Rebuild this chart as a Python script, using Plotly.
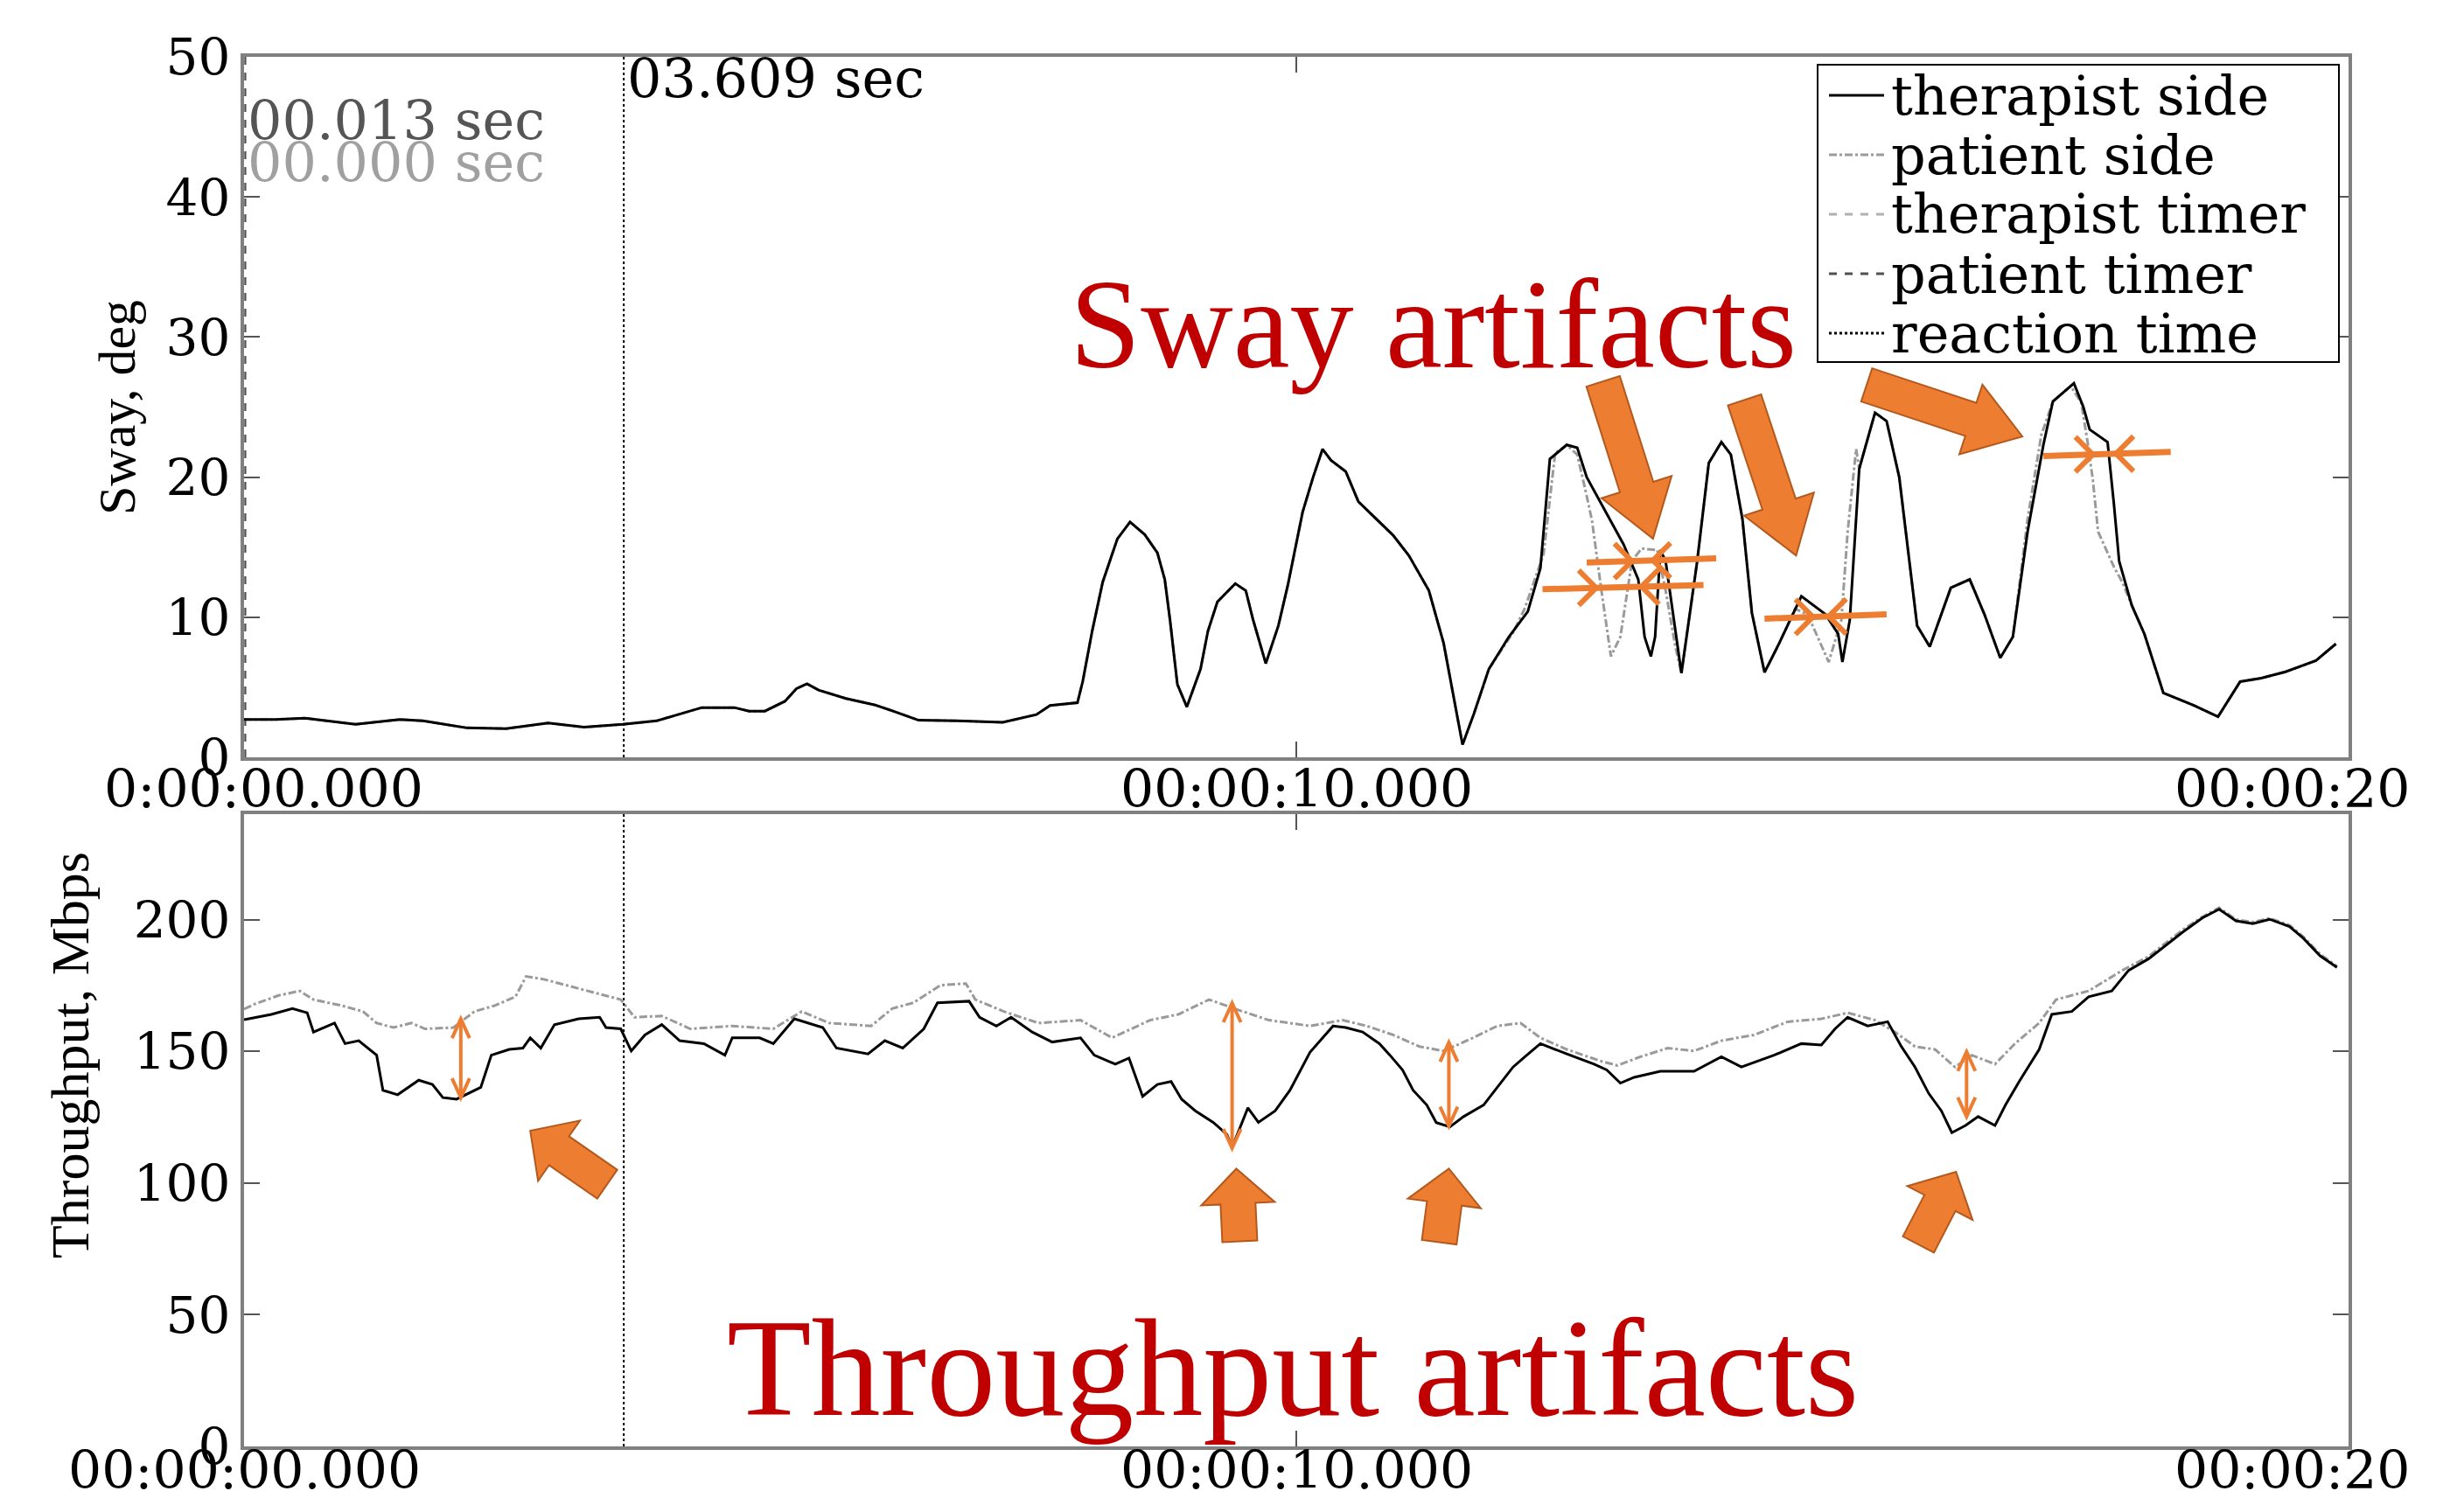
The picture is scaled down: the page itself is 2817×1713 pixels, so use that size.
import math
import plotly.graph_objects as go

# ---------------- data ----------------
sway_t = [0.00, 0.30, 0.58, 1.06, 1.48, 1.70, 2.12, 2.49, 2.89, 3.23, 3.60, 3.92, 4.35, 4.66, 4.80,
          4.95, 5.14, 5.25, 5.35, 5.46, 5.72, 5.99, 6.15, 6.41, 6.78, 7.21, 7.53, 7.66, 7.92, 7.97,
          8.06, 8.16, 8.30, 8.42, 8.56, 8.68, 8.75, 8.80, 8.87, 8.96, 9.09, 9.16, 9.25, 9.42, 9.52,
          9.59, 9.71, 9.83, 9.92, 10.06, 10.16, 10.25, 10.33, 10.47, 10.59, 10.92, 11.07, 11.26, 11.40,
          11.58, 11.69, 11.83, 12.02, 12.20, 12.32, 12.41, 12.57, 12.67, 12.76, 12.96, 13.11, 13.25,
          13.31, 13.37, 13.41, 13.46, 13.51, 13.66, 13.81, 13.92, 14.04, 14.13, 14.24, 14.33, 14.45,
          14.59, 14.80, 15.03, 15.15, 15.19, 15.26, 15.35, 15.50, 15.61, 15.73, 15.90, 16.02, 16.22,
          16.40, 16.54, 16.69, 16.81, 16.95, 17.10, 17.19, 17.39, 17.48, 17.54, 17.71, 17.77, 17.82,
          17.94, 18.06, 18.24, 18.53, 18.76, 18.97, 19.17, 19.40, 19.69, 19.88]
sway_therapist = [2.7, 2.7, 2.8, 2.35, 2.7, 2.6, 2.1, 2.05, 2.45, 2.15, 2.35, 2.6, 3.55, 3.55, 3.3,
                  3.3, 4.0, 4.9, 5.25, 4.8, 4.2, 3.75, 3.35, 2.65, 2.6, 2.5, 3.05, 3.7, 3.9, 5.4,
                  9.0, 12.5, 15.6, 16.8, 15.9, 14.6, 12.7, 9.8, 5.2, 3.6, 6.3, 9.0, 11.1, 12.4, 11.9,
                  9.8, 6.7, 9.4, 12.3, 17.5, 20.0, 22.0, 21.2, 20.4, 18.25, 15.85, 14.4, 11.9, 8.15,
                  0.9, 3.15, 6.3, 8.6, 10.4, 13.5, 21.3, 22.3, 22.1, 20.0, 17.3, 15.2, 12.7,
                  8.6, 7.2, 8.6, 14.8, 14.0, 6.0, 14.0, 21.0, 22.5, 21.6, 17.0, 10.3, 6.06,
                  8.15, 11.5, 10.2, 8.8, 6.8, 9.8, 20.6, 24.6, 24.0, 20.0, 9.4, 7.9, 12.1,
                  12.7, 10.2, 7.1, 8.6, 16.1, 22.3, 25.4, 26.7, 25.0, 23.4, 22.5, 18.1, 14.0,
                  10.85, 8.8, 4.6, 3.7, 2.9, 5.4, 5.65, 6.1, 6.9, 8.1]

# patient side differs from therapist side only inside these windows
sway_artifact_windows = [(12.00, 13.62), (14.55, 15.34), (16.90, 17.88)]
sway_patient_t = [12.06, 12.17, 12.35, 12.46, 12.57, 12.67, 12.75, 12.81, 12.90, 12.99, 13.08, 13.19,
                  13.28, 13.43, 13.51, 13.60,
                  14.59, 14.74, 14.86, 14.97, 15.06, 15.18, 15.24, 15.32,
                  16.95, 17.08, 17.19, 17.36, 17.46, 17.52, 17.57, 17.62, 17.77, 17.85]
sway_patient_v = [8.9, 10.6, 14.5, 21.7, 22.3, 21.6, 19.0, 16.9, 11.9, 7.2, 8.6, 14.0,
                  14.9, 14.8, 11.9, 8.0,
                  8.15, 10.6, 10.2, 8.35, 6.8, 9.8, 16.1, 22.0,
                  17.0, 23.0, 25.4, 26.5, 25.3, 22.5, 19.8, 16.1, 13.6, 12.5]

tp_t = [0.00, 0.26, 0.46, 0.60, 0.66, 0.86, 0.96, 1.09, 1.26, 1.32, 1.46, 1.66, 1.79, 1.89, 2.02,
        2.25, 2.35, 2.52, 2.65, 2.72, 2.82, 2.95, 3.18, 3.38, 3.44, 3.58, 3.68, 3.81, 3.97, 4.14,
        4.37, 4.57, 4.64, 4.90, 5.03, 5.23, 5.50, 5.63, 5.93, 6.09, 6.26, 6.46, 6.59, 6.89, 6.99,
        7.15, 7.29, 7.49, 7.68, 7.95, 8.08, 8.28, 8.41, 8.54, 8.68, 8.81, 8.91, 9.04, 9.21, 9.34,
        9.39, 9.54, 9.64, 9.80, 9.94, 10.13, 10.35, 10.47, 10.63, 10.79, 10.89, 11.01, 11.11, 11.24,
        11.33, 11.46, 11.59, 11.78, 11.91, 12.06, 12.19, 12.32, 12.57, 12.83, 12.95, 13.08, 13.21,
        13.46, 13.78, 14.04, 14.23, 14.54, 14.80, 14.99, 15.12, 15.24, 15.43, 15.62, 15.75, 15.88,
        16.01, 16.13, 16.23, 16.36, 16.48, 16.64, 16.74, 16.87, 17.06, 17.18, 17.37, 17.53, 17.75,
        17.91, 18.10, 18.42, 18.61, 18.77, 18.93, 19.09, 19.25, 19.44, 19.57, 19.73, 19.89]
tp_therapist = [162.0, 164.0, 166.2, 164.6, 157.3, 160.7, 152.9, 154.0, 148.5, 135.2, 133.5, 139.0, 137.4, 132.4, 131.8,
                136.3, 148.5, 150.7, 151.2, 155.1, 151.2, 160.1, 162.3, 162.9, 159.0, 158.5, 150.1, 156.2, 160.1, 154.0,
                152.9, 148.5, 155.1, 155.1, 152.9, 162.3, 159.0, 151.2, 149.0, 154.0, 151.2, 158.5, 168.4, 169.0, 162.9,
                159.6, 162.9, 157.3, 153.5, 155.1, 148.5, 145.1, 147.4, 132.9, 137.4, 138.5, 131.8, 127.4, 123.0, 118.5,
                113.5, 128.5, 123.0, 127.4, 135.2, 149.6, 159.6, 159.0, 157.3, 152.9, 148.5, 142.9, 135.2, 129.6,
                122.9, 121.3, 125.2, 129.6, 136.3, 144.0, 148.5, 152.9, 149.0, 145.1, 142.9, 137.9, 140.1,
                142.4, 142.4, 147.9, 144.0, 148.5, 152.9, 152.4, 158.5, 162.9, 159.6, 161.2, 151.8, 144.0,
                134.0, 127.4, 119.1, 121.8, 125.2, 121.8, 129.6, 138.5, 150.7, 164.0, 165.1, 170.7, 172.9,
                180.7, 185.1, 195.1, 200.6, 203.9, 199.5, 198.4, 200.1, 197.3, 192.9, 186.2, 181.8]

tp_patient_t = [0.00, 0.10, 0.33, 0.53, 0.66, 0.93, 1.13, 1.26, 1.42, 1.59, 1.72, 1.99, 2.19, 2.38, 2.58,
                2.68, 2.85, 3.11, 3.38, 3.58, 3.71, 3.97, 4.24, 4.64, 5.03, 5.30, 5.56, 5.96, 6.16, 6.36,
                6.62, 6.86, 6.95, 7.22, 7.55, 7.95, 8.25, 8.61, 8.88, 9.17, 9.41, 9.74, 10.13, 10.44, 10.67,
                10.92, 11.17, 11.40, 11.68, 11.91, 12.13, 12.32, 12.57, 12.89, 13.05, 13.27, 13.53, 13.78,
                14.04, 14.35, 14.67, 14.99, 15.24, 15.50, 15.69, 15.88, 16.07, 16.26, 16.42, 16.64, 16.83,
                17.06, 17.22, 17.53, 17.85, 18.10, 18.42, 18.61, 18.77, 18.93, 19.09, 19.25, 19.44, 19.57,
                19.73, 19.89]
tp_patient = [166.0, 167.9, 171.2, 172.9, 169.6, 167.3, 165.1, 160.7, 159.0, 160.7, 158.5, 159.0, 165.1, 167.3, 170.7,
              178.4, 177.3, 174.5, 171.8, 169.6, 162.9, 163.4, 158.5, 159.6, 158.5, 165.1, 160.7, 159.6, 166.2, 168.4,
              175.1, 175.7, 169.6, 165.1, 160.7, 161.8, 155.1, 161.8, 164.0, 169.6, 166.2, 161.8, 159.6, 161.8, 159.6,
              156.2, 151.8, 150.1, 155.1, 159.6, 160.7, 155.1, 150.7, 146.3, 144.6, 147.9, 151.2, 150.1,
              154.0, 156.2, 161.2, 162.3, 164.6, 161.8, 157.3, 151.8, 150.7, 144.0, 148.5, 145.1, 152.9,
              160.7, 169.6, 172.9, 180.7, 186.0, 196.0, 201.0, 204.5, 200.0, 199.0, 200.5, 197.8, 193.5,
              186.8, 182.3]

reaction_time = 3.609
therapist_timer = 0.000
patient_timer = 0.013

x_tick_vals = [0, 10, 20]
x_tick_text_top = ["0:00:00.000", "00:00:10.000", "00:00:20"]
x_tick_text_bottom = ["00:00:00.000", "00:00:10.000", "00:00:20"]
sway_ticks = [0, 10, 20, 30, 40, 50]
tp_ticks = [0, 50, 100, 150, 200]

legend_names = ["therapist side", "patient side", "therapist timer", "patient timer", "reaction time"]

# annotation marks (in data units)
sway_measures = [  # t_left, v_left, t_right, v_right, t_head_right, t_head_left
    (12.34, 12.0, 13.87, 12.3, 12.85, 13.28),
    (12.76, 13.9, 13.99, 14.2, 13.19, 13.39),
    (14.45, 9.9, 15.61, 10.2, 14.91, 15.06),
    (17.10, 21.5, 18.31, 21.8, 17.57, 17.79),
]
tp_measures = [  # t, v_top, v_bottom
    (2.06, 162.3, 132.4),
    (9.39, 168.3, 113.2),
    (11.45, 153.3, 121.6),
    (16.37, 149.8, 125.2),
]
# block arrows: panel, tip t, tip v, tail offset (px, screen)
block_arrows = [
    (1, 13.39, 15.6, -57, -180),
    (1, 14.75, 14.4, -59, -178),
    (1, 16.90, 22.9, -178, -59),
    (2, 2.72, 119.8, 88, 61),
    (2, 9.43, 105.4, 4, 83),
    (2, 11.45, 105.4, -11, 84),
    (2, 16.27, 104.2, -43, 83),
]

# ---------------- geometry / styles ----------------
W, H = 2817, 1713
ML, MR, MT, MB = 271, 140, 57, 67
PW, PH = W - ML - MR, H - MT - MB
TOP_Y = (858, 57)     # pixel rows of y=0 and y=max for top panel
BOT_Y = (1646, 923)
X_RANGE = [0, 20]
Y1_RANGE = [0, 50]
Y2_RANGE = [0, 240]
dom_top = [(H - MB - TOP_Y[0]) / PH, 1.0]
dom_bot = [0.0, (H - MB - BOT_Y[1]) / PH]

ORANGE = "#ED7D31"
ORANGE_EDGE = "#B4591E"
GRAY = "#9a9a9a"
SERIF_CHART = "DejaVu Serif"
SERIF_TXT = "Liberation Serif"

styles = {
    "therapist side": dict(color="black", width=3, dash="solid"),
    "patient side": dict(color=GRAY, width=3, dash="dashdot"),
    "therapist timer": dict(color="#b0b0b0", width=2, dash="dash"),
    "patient timer": dict(color="#505050", width=2, dash="dash"),
    "reaction time": dict(color="black", width=2, dash="dot"),
}


def data_px(panel, t, v):
    X = ML + (t - X_RANGE[0]) / (X_RANGE[1] - X_RANGE[0]) * PW
    if panel == 1:
        y0, y1, r = TOP_Y[0], TOP_Y[1], Y1_RANGE
    else:
        y0, y1, r = BOT_Y[0], BOT_Y[1], Y2_RANGE
    Y = y0 + (v - r[0]) / (r[1] - r[0]) * (y1 - y0)
    return X, Y


def px_paper(X, Y):
    return (X - ML) / PW, (H - MB - Y) / PH


def path_from_px(pts, close=False):
    s = []
    for i, (X, Y) in enumerate(pts):
        xp, yp = px_paper(X, Y)
        s.append(("M" if i == 0 else "L") + f"{xp:.5f},{yp:.5f}")
    return " ".join(s) + (" Z" if close else "")


shapes = []


def block_arrow(panel, tt, tv, ox, oy, shaft=40, head=84, head_len=None):
    TX, TY = data_px(panel, tt, tv)
    SX, SY = TX + ox, TY + oy
    L = math.hypot(TX - SX, TY - SY)
    if head_len is None:
        head_len = 62 if L > 140 else 40
    ux, uy = (TX - SX) / L, (TY - SY) / L
    nx, ny = -uy, ux
    bx, by = TX - ux * head_len, TY - uy * head_len
    pts = [(SX + nx * shaft / 2, SY + ny * shaft / 2),
           (bx + nx * shaft / 2, by + ny * shaft / 2),
           (bx + nx * head / 2, by + ny * head / 2),
           (TX, TY),
           (bx - nx * head / 2, by - ny * head / 2),
           (bx - nx * shaft / 2, by - ny * shaft / 2),
           (SX - nx * shaft / 2, SY - ny * shaft / 2)]
    shapes.append(dict(type="path", xref="paper", yref="paper", path=path_from_px(pts, True),
                       fillcolor=ORANGE, line=dict(color=ORANGE_EDGE, width=2), layer="above"))


def orange_path(pts, width):
    shapes.append(dict(type="path", xref="paper", yref="paper", path=path_from_px(pts),
                       line=dict(color=ORANGE, width=width), layer="above"))


for (t0, v0, t1, v1, thr, thl) in sway_measures:
    A = data_px(1, t0, v0)
    B = data_px(1, t1, v1)
    orange_path([A, B], 7)
    vr = v0 + (v1 - v0) * (thr - t0) / (t1 - t0)
    vl = v0 + (v1 - v0) * (thl - t0) / (t1 - t0)
    RX, RY = data_px(1, thr, vr)
    orange_path([(RX - 20, RY - 20), (RX, RY), (RX - 20, RY + 20)], 6)
    LX, LY = data_px(1, thl, vl)
    orange_path([(LX + 20, LY - 20), (LX, LY), (LX + 20, LY + 20)], 6)

for (t, vt, vb) in tp_measures:
    TX, TY = data_px(2, t, vt)
    BX, BY = data_px(2, t, vb)
    orange_path([(TX, TY), (BX, BY)], 4)
    orange_path([(TX - 10, TY + 22), (TX, TY), (TX + 10, TY + 22)], 4)
    orange_path([(BX - 10, BY - 22), (BX, BY), (BX + 10, BY - 22)], 4)

for (p, tt, tv, ox, oy) in block_arrows:
    block_arrow(p, tt, tv, ox, oy)

# ---- legend box (drawn as in the original figure) ----
LEG_BOX = (2070, 66, 2666, 406)
LEG_ROW0, LEG_STEP = 101, 68
LEG_SAMPLE = (2083, 2146)
LEG_TEXT_X = 2152
x0p, y0p = px_paper(LEG_BOX[0], LEG_BOX[1])
x1p, y1p = px_paper(LEG_BOX[2], LEG_BOX[3])
shapes.append(dict(type="rect", xref="paper", yref="paper", x0=x0p, y0=y1p, x1=x1p, y1=y0p,
                   fillcolor="white", line=dict(color="black", width=2), layer="above"))
legend_ann = []
for i, name in enumerate(legend_names):
    Y = LEG_ROW0 + i * LEG_STEP
    sa = px_paper(LEG_SAMPLE[0], Y)
    sb = px_paper(LEG_SAMPLE[1], Y)
    st = styles[name]
    shapes.append(dict(type="line", xref="paper", yref="paper", x0=sa[0], y0=sa[1], x1=sb[0], y1=sb[1],
                       line=dict(color=st["color"], width=max(st["width"], 3), dash=st["dash"]),
                       layer="above"))
    tx, ty = px_paper(LEG_TEXT_X, Y)
    legend_ann.append(dict(x=tx, y=ty, xref="paper", yref="paper", text=name, showarrow=False,
                           xanchor="left", yanchor="middle",
                           font=dict(family=SERIF_CHART, size=62, color="black")))

# patient side sway = therapist side outside artifact windows + artifact points
def in_window(t):
    return any(a <= t <= b for a, b in sway_artifact_windows)

pat_pts = [(t, v) for t, v in zip(sway_t, sway_therapist) if not in_window(t)]
pat_pts += list(zip(sway_patient_t, sway_patient_v))
pat_pts.sort()
sway_patient_full_t = [p[0] for p in pat_pts]
sway_patient_full_v = [p[1] for p in pat_pts]

# ---------------- figure ----------------
fig = go.Figure()
fig.add_trace(go.Scatter(x=[therapist_timer, therapist_timer], y=Y1_RANGE, mode="lines", name="therapist timer",
                         line=styles["therapist timer"], xaxis="x", yaxis="y"))
fig.add_trace(go.Scatter(x=[patient_timer, patient_timer], y=Y1_RANGE, mode="lines", name="patient timer",
                         line=styles["patient timer"], xaxis="x", yaxis="y"))
fig.add_trace(go.Scatter(x=sway_patient_full_t, y=sway_patient_full_v, mode="lines", name="patient side",
                         line=styles["patient side"], xaxis="x", yaxis="y"))
fig.add_trace(go.Scatter(x=sway_t, y=sway_therapist, mode="lines", name="therapist side",
                         line=styles["therapist side"], xaxis="x", yaxis="y"))
fig.add_trace(go.Scatter(x=[reaction_time, reaction_time], y=Y1_RANGE, mode="lines", name="reaction time",
                         line=styles["reaction time"], xaxis="x", yaxis="y"))

fig.add_trace(go.Scatter(x=tp_patient_t, y=tp_patient, mode="lines", name="patient side",
                         line=styles["patient side"], xaxis="x2", yaxis="y2"))
fig.add_trace(go.Scatter(x=tp_t, y=tp_therapist, mode="lines", name="therapist side",
                         line=styles["therapist side"], xaxis="x2", yaxis="y2"))
fig.add_trace(go.Scatter(x=[reaction_time, reaction_time], y=Y2_RANGE, mode="lines", name="reaction time",
                         line=styles["reaction time"], xaxis="x2", yaxis="y2"))

axis_common = dict(showgrid=False, zeroline=False, showline=True, linecolor="#808080", linewidth=4,
                   mirror="ticks", ticks="inside", ticklen=18, tickwidth=2, tickcolor="#555555",
                   layer="above traces")

fig.update_layout(
    width=W, height=H,
    margin=dict(l=ML, r=MR, t=MT, b=MB, pad=0),
    paper_bgcolor="white", plot_bgcolor="white",
    font=dict(family=SERIF_CHART, size=58, color="black"),
    xaxis=dict(domain=[0, 1], range=X_RANGE, anchor="y", tickvals=x_tick_vals, showticklabels=False,
               **axis_common),
    xaxis2=dict(domain=[0, 1], range=X_RANGE, anchor="y2", matches="x", tickvals=x_tick_vals,
                showticklabels=False, **axis_common),
    yaxis=dict(domain=dom_top, range=Y1_RANGE, anchor="x", tickvals=sway_ticks,
               tickfont=dict(family=SERIF_CHART, size=58), **axis_common),
    yaxis2=dict(domain=dom_bot, range=Y2_RANGE, anchor="x2", tickvals=tp_ticks,
                tickfont=dict(family=SERIF_CHART, size=58), **axis_common),
    shapes=shapes,
    showlegend=False,
)

ann = []
ytop_lbl = (H - MB - 894) / PH
ybot_lbl = (H - MB - 1673) / PH
for val, txt_t, txt_b in zip(x_tick_vals, x_tick_text_top, x_tick_text_bottom):
    if val == X_RANGE[1]:
        kw = dict(xanchor="right", xshift=72)
    else:
        kw = dict(xanchor="center")
    kw_top = dict(kw, xshift=22) if val == X_RANGE[0] else kw
    ann.append(dict(x=val, y=ytop_lbl, xref="x", yref="paper", text=txt_t, showarrow=False,
                    yanchor="middle", font=dict(family=SERIF_CHART, size=60), **kw_top))
    ann.append(dict(x=val, y=ybot_lbl, xref="x2", yref="paper", text=txt_b, showarrow=False,
                    yanchor="middle", font=dict(family=SERIF_CHART, size=60), **kw))

ann += [
    dict(x=reaction_time, y=(H - MB - 81) / PH, xref="x", yref="paper", text="03.609 sec",
         showarrow=False, xanchor="left", yanchor="middle", xshift=2,
         font=dict(family=SERIF_CHART, size=62, color="black")),
    dict(x=therapist_timer, y=(H - MB - 129) / PH, xref="x", yref="paper", text="00.013 sec",
         showarrow=False, xanchor="left", yanchor="middle", xshift=2,
         font=dict(family=SERIF_CHART, size=62, color="#555555")),
    dict(x=therapist_timer, y=(H - MB - 178) / PH, xref="x", yref="paper", text="00.000 sec",
         showarrow=False, xanchor="left", yanchor="middle", xshift=2,
         font=dict(family=SERIF_CHART, size=62, color="#a0a0a0")),
    dict(x=(126 - ML) / PW, y=(H - MB - 458) / PH, xref="paper", yref="paper", text="Sway, deg",
         showarrow=False, textangle=-90, xanchor="center", yanchor="middle",
         font=dict(family=SERIF_TXT, size=60, color="black")),
    dict(x=(72 - ML) / PW, y=(H - MB - 1198) / PH, xref="paper", yref="paper", text="Throughput, Mbps",
         showarrow=False, textangle=-90, xanchor="center", yanchor="middle",
         font=dict(family=SERIF_TXT, size=62, color="black")),
    dict(x=(1630 - ML) / PW, y=(H - MB - 363) / PH, xref="paper", yref="paper", text="Sway artifacts",
         showarrow=False, xanchor="center", yanchor="middle",
         font=dict(family=SERIF_TXT, size=146, color="#C00000")),
    dict(x=(1470 - ML) / PW, y=(H - MB - 1556) / PH, xref="paper", yref="paper", text="Throughput artifacts",
         showarrow=False, xanchor="center", yanchor="middle",
         font=dict(family=SERIF_TXT, size=158, color="#C00000")),
]
fig.update_layout(annotations=ann + legend_ann)

fig.write_html("out.html")
